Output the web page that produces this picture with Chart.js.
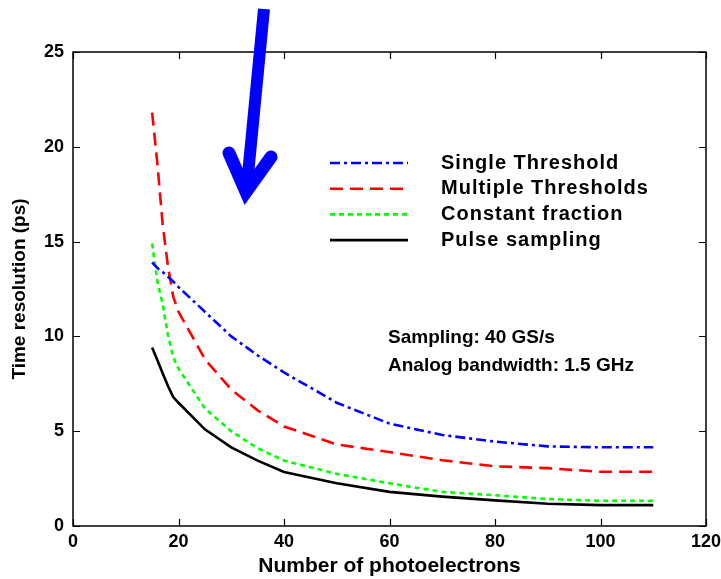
<!DOCTYPE html>
<html>
<head>
<meta charset="utf-8">
<script src="https://cdn.jsdelivr.net/npm/chart.js@4"></script>
<style>
  html, body { margin: 0; padding: 0; background: #fff; }
  #wrap { width: 721px; height: 579px; }
</style>
</head>
<body>
<div id="wrap"><canvas id="chart" width="721" height="579"></canvas></div>
<script>
// values
const photoelectrons = [15, 16, 17, 18, 19, 20, 25, 30, 35, 40, 50, 60, 70, 80, 90, 100, 110];
const singleThreshold   = [13.9, 13.6, 13.4, 13.15, 12.9, 12.6, 11.3, 10.0, 9.0, 8.1, 6.5, 5.4, 4.8, 4.45, 4.2, 4.15, 4.15];
const multipleThreshold = [21.8, 19.1, 15.9, 13.7, 12.1, 11.3, 8.8, 7.2, 6.1, 5.25, 4.3, 3.9, 3.47, 3.15, 3.05, 2.86, 2.86];
const constantFraction  = [14.9, 12.9, 11.7, 10.1, 8.9, 8.3, 6.2, 5.0, 4.1, 3.45, 2.75, 2.25, 1.8, 1.62, 1.42, 1.33, 1.33];
const pulseSampling     = [9.42, 8.74, 8.06, 7.38, 6.8, 6.5, 5.1, 4.15, 3.45, 2.85, 2.25, 1.8, 1.55, 1.35, 1.17, 1.1, 1.1];
const xTicks = [0, 20, 40, 60, 80, 100, 120];
const yTicks = [0, 5, 10, 15, 20, 25];
const noteLines = ['Sampling: 40 GS/s', 'Analog bandwidth: 1.5 GHz'];

const pts = ys => photoelectrons.map((x, i) => ({ x: x, y: ys[i] }));

const FONT = 'Liberation Sans, Arial, sans-serif';

function series(label, ys, color, dash) {
  return {
    label: label,
    data: pts(ys),
    borderColor: color,
    borderWidth: 2.6,
    borderDash: dash,
    pointRadius: 0,
    tension: 0,
    fill: false
  };
}

// box with inward ticks, like the original plot
const boxPlugin = {
  id: 'box',
  beforeDatasetsDraw(chart) {
    const { ctx, chartArea: a, scales } = chart;
    ctx.save();
    ctx.strokeStyle = '#000';
    ctx.lineWidth = 1.5;
    ctx.strokeRect(a.left, a.top, a.right - a.left, a.bottom - a.top);
    ctx.lineWidth = 1.2;
    ctx.beginPath();
    xTicks.forEach(v => {
      const px = Math.round(scales.x.getPixelForValue(v)) + 0.5;
      ctx.moveTo(px, a.bottom); ctx.lineTo(px, a.bottom - 7);
      ctx.moveTo(px, a.top); ctx.lineTo(px, a.top + 7);
    });
    yTicks.forEach(v => {
      const py = Math.round(scales.y.getPixelForValue(v)) + 0.5;
      ctx.moveTo(a.left, py); ctx.lineTo(a.left + 7, py);
      ctx.moveTo(a.right, py); ctx.lineTo(a.right - 7, py);
    });
    ctx.stroke();
    ctx.restore();
  }
};

// legend + note inside the plot, and the big blue arrow on top
const overlayPlugin = {
  id: 'overlay',
  afterDraw(chart) {
    const { ctx } = chart;
    ctx.save();
    ctx.fillStyle = '#000';
    ctx.textBaseline = 'middle';
    ctx.font = 'bold 20px ' + FONT;
    ctx.letterSpacing = '1px';
    chart.data.datasets.forEach((ds, i) => {
      const y = 163 + i * 25.7;
      ctx.strokeStyle = ds.borderColor;
      ctx.lineWidth = ds.borderWidth;
      ctx.setLineDash(ds.borderDash);
      ctx.beginPath();
      ctx.moveTo(330, y); ctx.lineTo(408, y);
      ctx.stroke();
      ctx.fillText(ds.label, 441, y);
    });
    ctx.setLineDash([]);
    ctx.font = 'bold 19px ' + FONT;
    ctx.letterSpacing = '0px';
    noteLines.forEach((t, i) => ctx.fillText(t, 388, 338 + i * 28));

    // arrow
    ctx.strokeStyle = '#0000ff';
    ctx.lineWidth = 12;
    ctx.lineCap = 'butt';
    ctx.beginPath();
    ctx.moveTo(264, 9); ctx.lineTo(247, 185);
    ctx.stroke();
    ctx.lineWidth = 13;
    ctx.lineCap = 'round';
    ctx.lineJoin = 'miter';
    ctx.beginPath();
    ctx.moveTo(229, 153); ctx.lineTo(246, 192); ctx.lineTo(271, 157);
    ctx.stroke();
    ctx.restore();
  }
};

const ctx = document.getElementById('chart');
new Chart(ctx, {
  type: 'line',
  data: {
    datasets: [
      series('Single Threshold', singleThreshold, '#0000ff', [10, 4, 3, 4]),
      series('Multiple Thresholds', multipleThreshold, '#ff0000', [13, 7]),
      series('Constant fraction', constantFraction, '#00ff00', [5, 4]),
      series('Pulse sampling', pulseSampling, '#000000', [])
    ]
  },
  options: {
    responsive: false,
    animation: false,
    layout: { padding: { top: 52, right: 15, left: 0, bottom: 0 } },
    scales: {
      x: {
        type: 'linear',
        min: 0, max: 120,
        afterBuildTicks: s => { s.ticks = xTicks.map(v => ({ value: v })); },
        afterFit: s => { s.height = 53; s.paddingLeft = 0; s.paddingRight = 0; },
        grid: { display: false, drawTicks: false },
        border: { display: false },
        ticks: { color: '#000', font: { family: FONT, size: 18, weight: 'bold' }, padding: 5, maxRotation: 0 },
        title: { display: true, text: 'Number of photoelectrons', color: '#000',
                 font: { family: FONT, size: 21, weight: 'bold' }, padding: { top: 0, bottom: 0 } }
      },
      y: {
        min: 0, max: 25,
        afterBuildTicks: s => { s.ticks = yTicks.map(v => ({ value: v })); },
        afterFit: s => { s.width = 73; s.paddingTop = 0; s.paddingBottom = 0; },
        grid: { display: false, drawTicks: false },
        border: { display: false },
        ticks: { color: '#000', font: { family: FONT, size: 18, weight: 'bold' }, padding: 9 },
        title: { display: true, text: 'Time resolution (ps)', color: '#000',
                 font: { family: FONT, size: 19, weight: 'bold' }, padding: { top: 8, bottom: 0 } }
      }
    },
    plugins: {
      legend: { display: false },
      tooltip: { enabled: false }
    }
  },
  plugins: [boxPlugin, overlayPlugin]
});
</script>
</body>
</html>
